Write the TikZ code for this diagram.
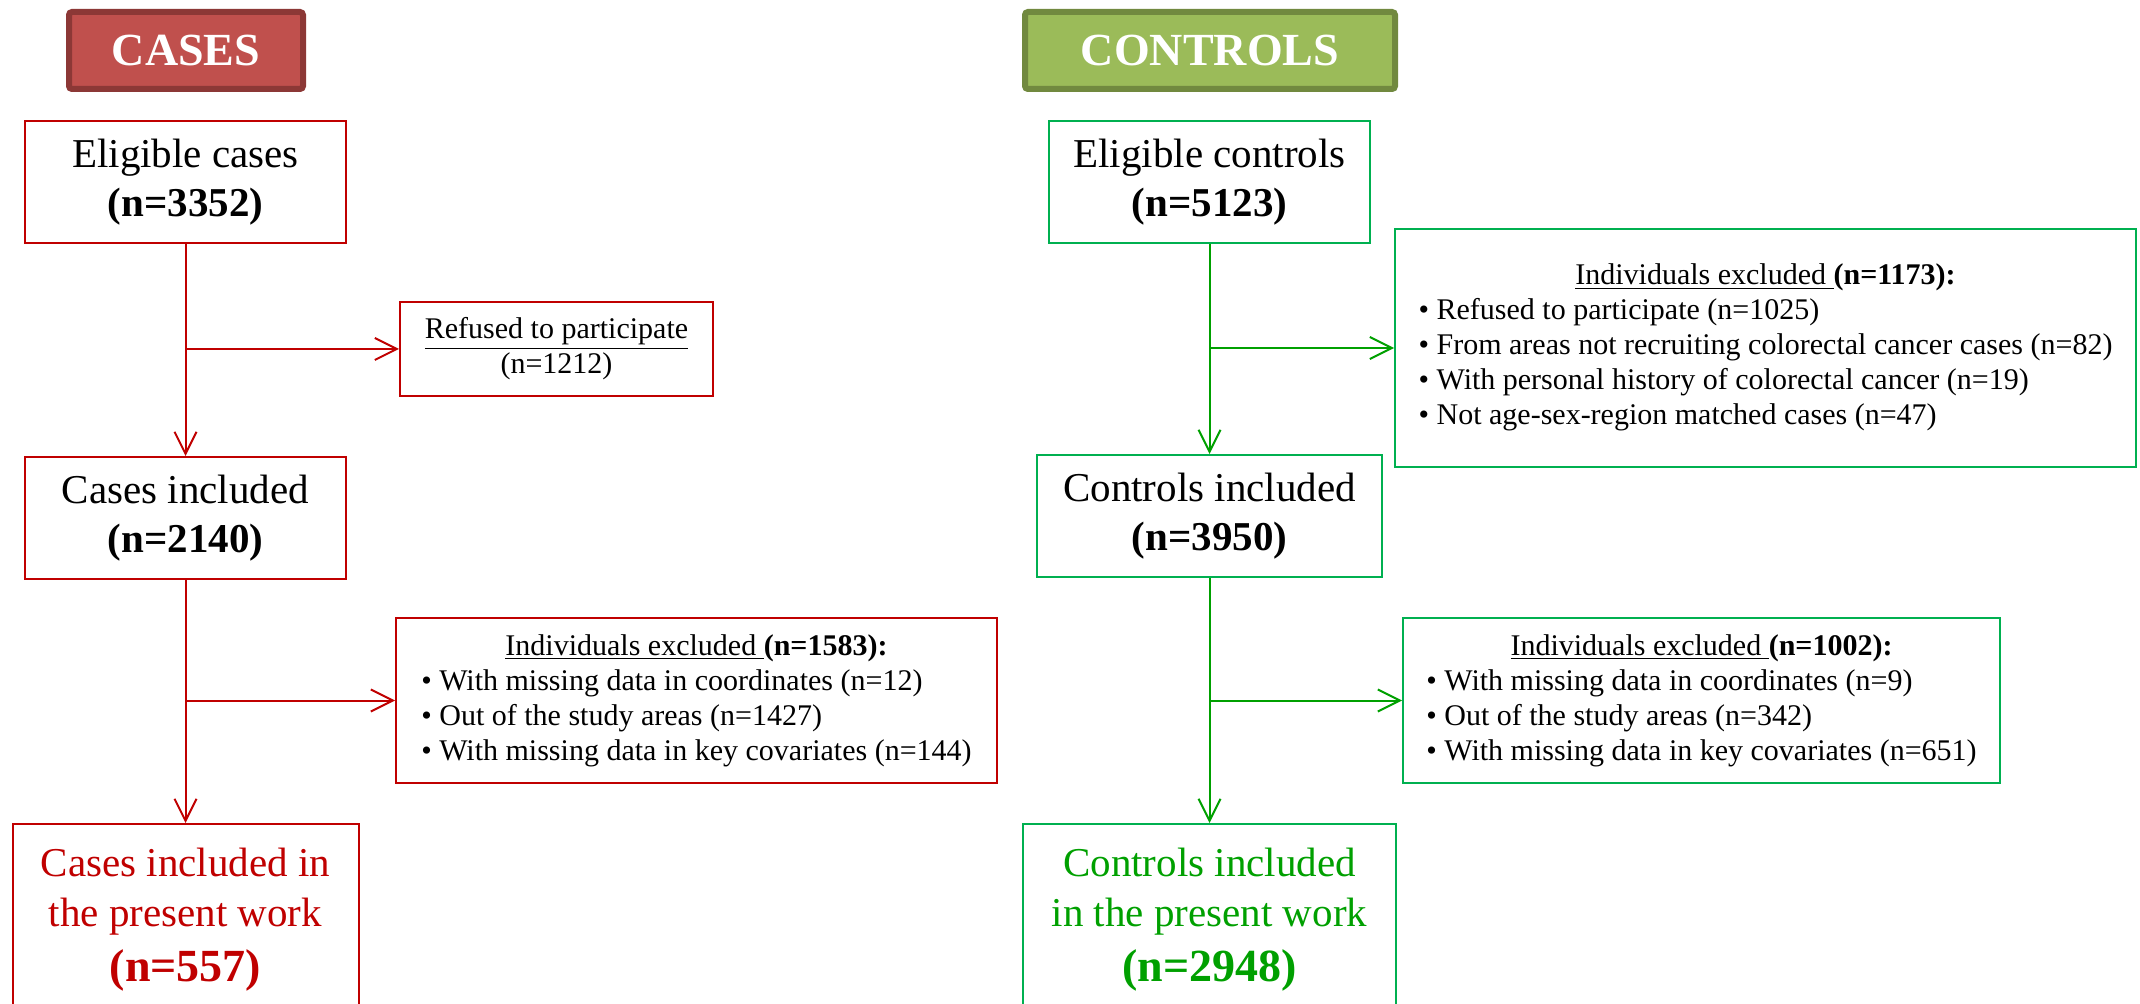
\documentclass[tikz,border=0pt]{standalone}
\usepackage{fontspec}
\setmainfont{Liberation Serif}
\usetikzlibrary{arrows.meta}
\definecolor{cred}{HTML}{C00000}
\definecolor{cgreen}{HTML}{00B050}
\definecolor{agreen}{HTML}{00A000}
\definecolor{hred}{HTML}{C0504D}
\definecolor{hredb}{HTML}{8C3836}
\definecolor{hgreen}{HTML}{9BBB59}
\definecolor{hgreenb}{HTML}{71893F}
\begin{document}
\begin{tikzpicture}[x=0.5pt,y=-0.5pt,
  hdr/.style={draw, rounded corners=1.5pt, line width=3pt, inner sep=0pt, text=white,
    minimum height=38.5pt, font=\fontsize{23}{27}\selectfont\bfseries},
  big/.style={draw, line width=1pt, inner sep=0pt, align=center, minimum width=160.5pt,
    minimum height=61pt, font=\fontsize{20.5}{24.5}\selectfont},
  exbox/.style={draw, line width=1pt, inner sep=0pt, font=\fontsize{15}{17.5}\selectfont},
  finbox/.style={draw, line width=1pt, inner sep=0pt, align=center, minimum height=96pt,
    font=\fontsize{20.5}{25}\selectfont},
  arr/.style={line width=1pt, -{Straight Barb[length=11pt,width=11pt]}}]
\fill[white] (0,0) rectangle (2140,1004);
\clip (0,0) rectangle (2140,1004);

% headers
\node[hdr, draw=hredb, fill=hred, minimum width=117pt] (casesH) at (186,50.5) {CASES};
\node[hdr, draw=hgreenb, fill=hgreen, minimum width=185pt] (ctrlH) at (1210,50.5) {CONTROLS};

% cases column
\node[big, draw=cred] (elC) at (185.5,182) {Eligible cases\\\textbf{(n=3352)}};
\node[exbox, draw=cred, align=center, minimum width=156.5pt, minimum height=47pt] (ref) at (556.5,349)
  {\underline{Refused to participate}\\(n=1212)};
\node[big, draw=cred] (incC) at (185.5,518) {Cases included\\\textbf{(n=2140)}};
\node[exbox, draw=cred, minimum width=300.5pt, minimum height=82.5pt] (exC) at (696.5,700.5)
  {\begin{tabular}{@{}l@{}}
   \multicolumn{1}{c}{\underline{Individuals excluded\ }\textbf{(n=1583):}}\\
   \textbullet\ With missing data in coordinates (n=12)\\
   \textbullet\ Out of the study areas (n=1427)\\
   \textbullet\ With missing data in key covariates (n=144)
   \end{tabular}};
\node[finbox, draw=cred, text=cred, minimum width=173pt] (finC) at (185.5,920)
  {Cases included in\\the present work\\[2.5pt]{\fontsize{23}{27}\selectfont\bfseries (n=557)}};

% controls column
\node[big, draw=cgreen] (elK) at (1209.5,182) {Eligible controls\\\textbf{(n=5123)}};
\node[exbox, draw=cgreen, minimum width=370.5pt, minimum height=119pt] (exK1) at (1765.5,348)
  {\begin{tabular}{@{}l@{}}
   \multicolumn{1}{c}{\underline{Individuals excluded\ }\textbf{(n=1173):}}\\
   \textbullet\ Refused to participate (n=1025)\\
   \textbullet\ From areas not recruiting colorectal cancer cases (n=82)\\
   \textbullet\ With personal history of colorectal cancer (n=19)\\
   \textbullet\ Not age-sex-region matched cases (n=47)
   \end{tabular}};
\node[big, draw=cgreen, minimum width=172.5pt] (incK) at (1209.5,516) {Controls included\\\textbf{(n=3950)}};
\node[exbox, draw=cgreen, minimum width=298.5pt, minimum height=82.5pt] (exK2) at (1701.5,700.5)
  {\begin{tabular}{@{}l@{}}
   \multicolumn{1}{c}{\underline{Individuals excluded\ }\textbf{(n=1002):}}\\
   \textbullet\ With missing data in coordinates (n=9)\\
   \textbullet\ Out of the study areas (n=342)\\
   \textbullet\ With missing data in key covariates (n=651)
   \end{tabular}};
\node[finbox, draw=cgreen, text=agreen, minimum width=186.5pt] (finK) at (1209.5,920)
  {Controls included\\in the present work\\[2.5pt]{\fontsize{23}{27}\selectfont\bfseries (n=2948)}};

% connectors: cases
\draw[arr, cred] (elC.south) -- (incC.north);
\draw[arr, cred] (incC.south) -- (finC.north);
\draw[arr, cred] (elC.south |- ref.west) -- (ref.west);
\draw[arr, cred] (incC.south |- exC.west) -- (exC.west);

% connectors: controls
\draw[arr, agreen] (elK.south) -- (incK.north);
\draw[arr, agreen] (incK.south) -- (finK.north);
\draw[arr, agreen] (elK.south |- exK1.west) -- (exK1.west);
\draw[arr, agreen] (incK.south |- exK2.west) -- (exK2.west);
\end{tikzpicture}
\end{document}
